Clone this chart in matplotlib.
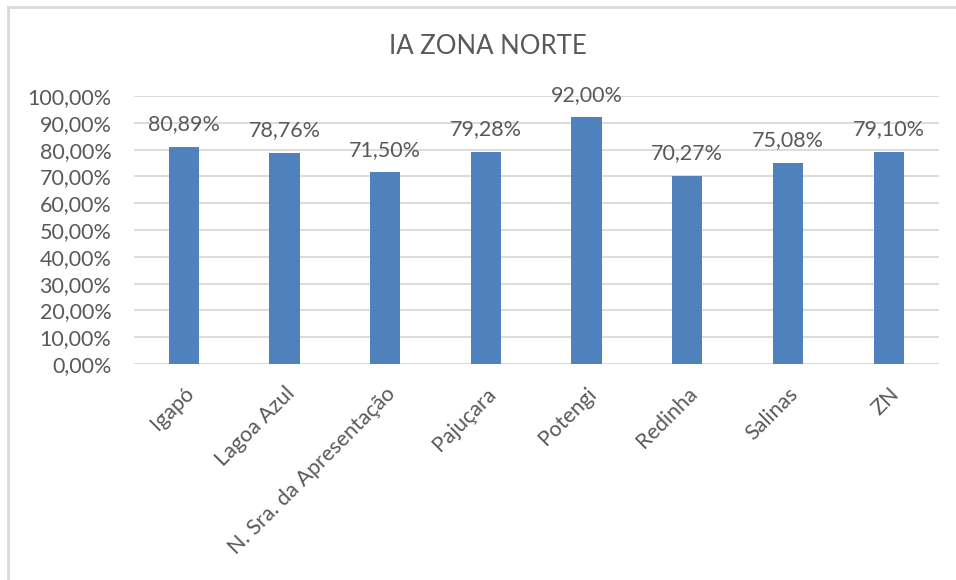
import matplotlib.pyplot as plt
from matplotlib.lines import Line2D
import numpy as np

# data
bairros = ['Igapó', 'Lagoa Azul', 'N. Sra. da Apresentação', 'Pajuçara',
           'Potengi', 'Redinha', 'Salinas', 'ZN']
ia = [80.89, 78.76, 71.50, 79.28, 92.00, 70.27, 75.08, 79.10]
yticks = [0, 10, 20, 30, 40, 50, 60, 70, 80, 90, 100]

TXT = '#595959'
GRID = '#D9D9D9'
BLUE = '#4F81BD'

def pct(v):
    return f'{v:.2f}'.replace('.', ',') + '%'

plt.rcParams['font.family'] = ['Lato', 'DejaVu Sans']

fig = plt.figure(figsize=(9.56, 5.8), dpi=100)
ax = fig.add_axes([133.5 / 956, 1 - 364 / 580, (939 - 133.5) / 956, (364 - 96) / 580])

x = np.arange(len(bairros))
bars = ax.bar(x, ia, width=0.3, color=BLUE, zorder=3)

for xi, v in zip(x, ia):
    ax.annotate(pct(v), (xi, v), xytext=(0, 12), textcoords='offset points',
                ha='center', va='baseline', fontsize=15.5, color=TXT)

ax.set_xlim(-0.5, len(bairros) - 0.5)
ax.set_ylim(0, 100)
ax.set_yticks(yticks)
ax.set_yticklabels([pct(t) for t in yticks], fontsize=15.5, color=TXT)
ax.set_xticks(x)
ax.set_xticklabels(bairros, rotation=45, ha='right', rotation_mode='anchor',
                   fontsize=15.5, color=TXT)
ax.tick_params(axis='both', length=0)
ax.tick_params(axis='y', pad=16)
ax.tick_params(axis='x', pad=14)
ax.grid(axis='y', color=GRID, linewidth=1.3, zorder=0)
for s in ax.spines.values():
    s.set_visible(False)

fig.text(488 / 956, 1 - 47 / 580, 'IA ZONA NORTE', ha='center', va='center',
         fontsize=18.5, color=TXT)

# chart frame (only top and left edges visible)
fig.add_artist(Line2D([8 / 956, 8 / 956], [0, 1 - 7 / 580], transform=fig.transFigure,
                      color=GRID, linewidth=2))
fig.add_artist(Line2D([8 / 956, 1], [1 - 7 / 580, 1 - 7 / 580], transform=fig.transFigure,
                      color=GRID, linewidth=2))

fig.savefig('out.png', dpi=100)
